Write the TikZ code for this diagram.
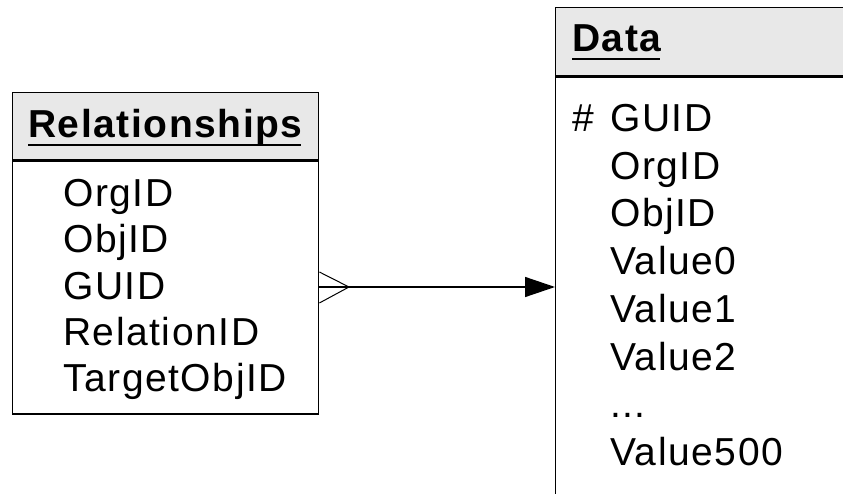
\documentclass[tikz,border=0pt]{standalone}
\usepackage{fontspec}
\setmainfont[LetterSpace=4]{Liberation Sans}
\usetikzlibrary{arrows.meta}
\begin{document}
\begin{tikzpicture}[x=1pt,y=-1pt,
  entity/.style={draw=black,line width=1.4pt,minimum width=#1,inner sep=0pt,anchor=north west},
  head/.style={fill=black!9},
  field/.style={anchor=base west,inner sep=0pt,font=\fontsize{39}{39}\selectfont},
  title/.style={anchor=base west,inner sep=0pt,font=\fontsize{39}{39}\selectfont\bfseries},
  link/.style={line width=1.4pt},
  foot/.style={line width=1pt}]
\useasboundingbox (0,0) rectangle (843,494);
\clip (0,0) rectangle (843,494);

% Relationships entity
\node[entity=306pt,head,minimum height=67pt] (relh) at (12,92) {};
\node[entity=306pt,minimum height=253pt] (relb) at (relh.south west) {};
\node[title] (relt) at (28,138) {Relationships};
\draw[line width=2pt] ([yshift=-7pt]relt.base west) -- ([yshift=-7pt,xshift=-1.5pt]relt.base east);
\node[field] (r1) at (63,207) {OrgID};
\node[field] (r2) at (63,253) {ObjID};
\node[field] (r3) at (63,299) {GUID};
\node[field] (r4) at (63,345) {RelationID};
\node[field] (r5) at (63,391) {TargetObjID};

% Data entity
\node[entity=320pt,head,minimum height=68pt] (dath) at (555,7) {};
\node[entity=320pt,minimum height=450pt] (datb) at (dath.south west) {};
\node[title] (datt) at (572,52) {Data};
\draw[line width=2pt] ([yshift=-7pt]datt.base west) -- ([yshift=-7pt,xshift=-1.5pt]datt.base east);
\node[field] (dk) at (572,132) {\#};
\node[field] (d1) at (610,132) {GUID};
\node[field] (d2) at (610,180) {OrgID};
\node[field] (d3) at (610,227) {ObjID};
\node[field] (d4) at (610,275) {Value0};
\node[field] (d5) at (610,322) {Value1};
\node[field] (d6) at (610,370) {Value2};
\node[field] (d7) at (610,417) {...};
\node[field] (d8) at (610,465) {Value500};

% many-to-one link
\coordinate (lk) at (0,287);
\coordinate (fu) at (0,272);
\coordinate (fl) at (0,303);
\coordinate (ft) at (349,287);
\draw[link,-{Triangle[length=30pt,width=20pt]}] (relb.east |- lk) -- (datb.west |- lk);
\draw[foot] (relb.east |- fu) -- (ft) -- (relb.east |- fl);
\end{tikzpicture}
\end{document}
